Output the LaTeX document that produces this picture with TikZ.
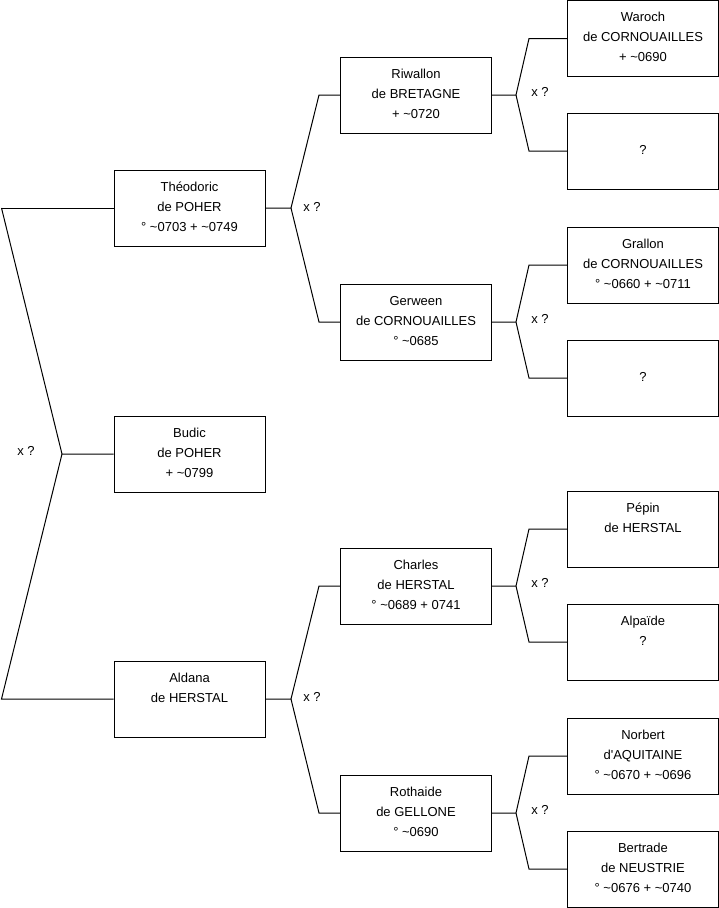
\documentclass[tikz,border=0pt]{standalone}
\usepackage{fontspec}
\newfontfamily\arialfont{Liberation Sans}
\newcommand\tld{\textasciitilde}
\newcommand\bx[1]{\raisebox{1pt}[\height][\depth]{\begin{tabular}{@{}c@{}}#1\end{tabular}}\hspace{7pt}}
\begin{document}
\begin{tikzpicture}[x=1pt,y=-1pt,
  box/.style={draw, line width=1pt, minimum width=151pt, minimum height=76pt, inner sep=0pt, font=\arialfont\fontsize{13}{20}\selectfont},
  conn/.style={line width=1pt},
  lab/.style={font=\arialfont\fontsize{13}{20}\selectfont, inner sep=0pt}]
\useasboundingbox (0,0) rectangle (719,908);
% column 1
\node[box] (theo) at (189.5,208) {\bx{Théodoric\\de POHER\\° \tld0703 + \tld0749}};
\node[box] (budic) at (189.5,454) {\bx{Budic\\de POHER\\+ \tld0799}};
\node[box] (aldana) at (189.5,699) {\bx{Aldana\\de HERSTAL\\\mbox{}}};
% column 2
\node[box] (riw) at (416,95) {\bx{Riwallon\\de BRETAGNE\\+ \tld0720}};
\node[box] (gerw) at (416,322) {\bx{Gerween\\de CORNOUAILLES\\° \tld0685}};
\node[box] (charles) at (416,586) {\bx{Charles\\de HERSTAL\\° \tld0689 + 0741}};
\node[box] (roth) at (416,813) {\bx{Rothaide\\de GELLONE\\° \tld0690}};
% column 3
\node[box] (waroch) at (643,38.5) {\bx{Waroch\\de CORNOUAILLES\\+ \tld0690}};
\node[box] (q1) at (643,151) {\bx{?}};
\node[box] (grallon) at (643,265) {\bx{Grallon\\de CORNOUAILLES\\° \tld0660 + \tld0711}};
\node[box] (q2) at (643,378) {\bx{?}};
\node[box] (pepin) at (643,529) {\bx{Pépin\\de HERSTAL\\\mbox{}}};
\node[box] (alp) at (643,642) {\bx{Alpaïde\\?\\\mbox{}}};
\node[box] (norbert) at (643,756) {\bx{Norbert\\d'AQUITAINE\\° \tld0670 + \tld0696}};
\node[box] (bertrade) at (643,869) {\bx{Bertrade\\de NEUSTRIE\\° \tld0676 + \tld0740}};
% root connectors
\coordinate (rA) at (1.5,208);
\coordinate (rM) at (62,454);
\coordinate (rB) at (1.5,699);
\draw[conn] (rA) -- (theo.west);
\draw[conn] (rA) -- (rM) -- (budic.west);
\draw[conn] (rM) -- (rB) -- (aldana.west);
\node[lab] (x0) at (26,451) {x ?};
% column 1 -> 2
\coordinate (j1) at (291,208);
\coordinate (j1u) at (319,95);
\coordinate (j1d) at (319,322);
\draw[conn] (theo.east) -- (j1) -- (j1u) -- (riw.west);
\draw[conn] (j1) -- (j1d) -- (gerw.west);
\node[lab] (x1) at (312,207) {x ?};
\coordinate (j2) at (291,699);
\coordinate (j2u) at (319,586);
\coordinate (j2d) at (319,813);
\draw[conn] (aldana.east) -- (j2) -- (j2u) -- (charles.west);
\draw[conn] (j2) -- (j2d) -- (roth.west);
\node[lab] (x2) at (312,697) {x ?};
% column 2 -> 3
\coordinate (k1) at (516,95);
\coordinate (k1u) at (529,38.5);
\coordinate (k1d) at (529,151);
\draw[conn] (riw.east) -- (k1) -- (k1u) -- (waroch.west);
\draw[conn] (k1) -- (k1d) -- (q1.west);
\node[lab] (y1) at (540,92) {x ?};
\coordinate (k2) at (516,322);
\coordinate (k2u) at (529,265);
\coordinate (k2d) at (529,378);
\draw[conn] (gerw.east) -- (k2) -- (k2u) -- (grallon.west);
\draw[conn] (k2) -- (k2d) -- (q2.west);
\node[lab] (y2) at (540,319) {x ?};
\coordinate (k3) at (516,586);
\coordinate (k3u) at (529,529);
\coordinate (k3d) at (529,642);
\draw[conn] (charles.east) -- (k3) -- (k3u) -- (pepin.west);
\draw[conn] (k3) -- (k3d) -- (alp.west);
\node[lab] (y3) at (540,583) {x ?};
\coordinate (k4) at (516,813);
\coordinate (k4u) at (529,756);
\coordinate (k4d) at (529,869);
\draw[conn] (roth.east) -- (k4) -- (k4u) -- (norbert.west);
\draw[conn] (k4) -- (k4d) -- (bertrade.west);
\node[lab] (y4) at (540,810) {x ?};
\end{tikzpicture}
\end{document}
